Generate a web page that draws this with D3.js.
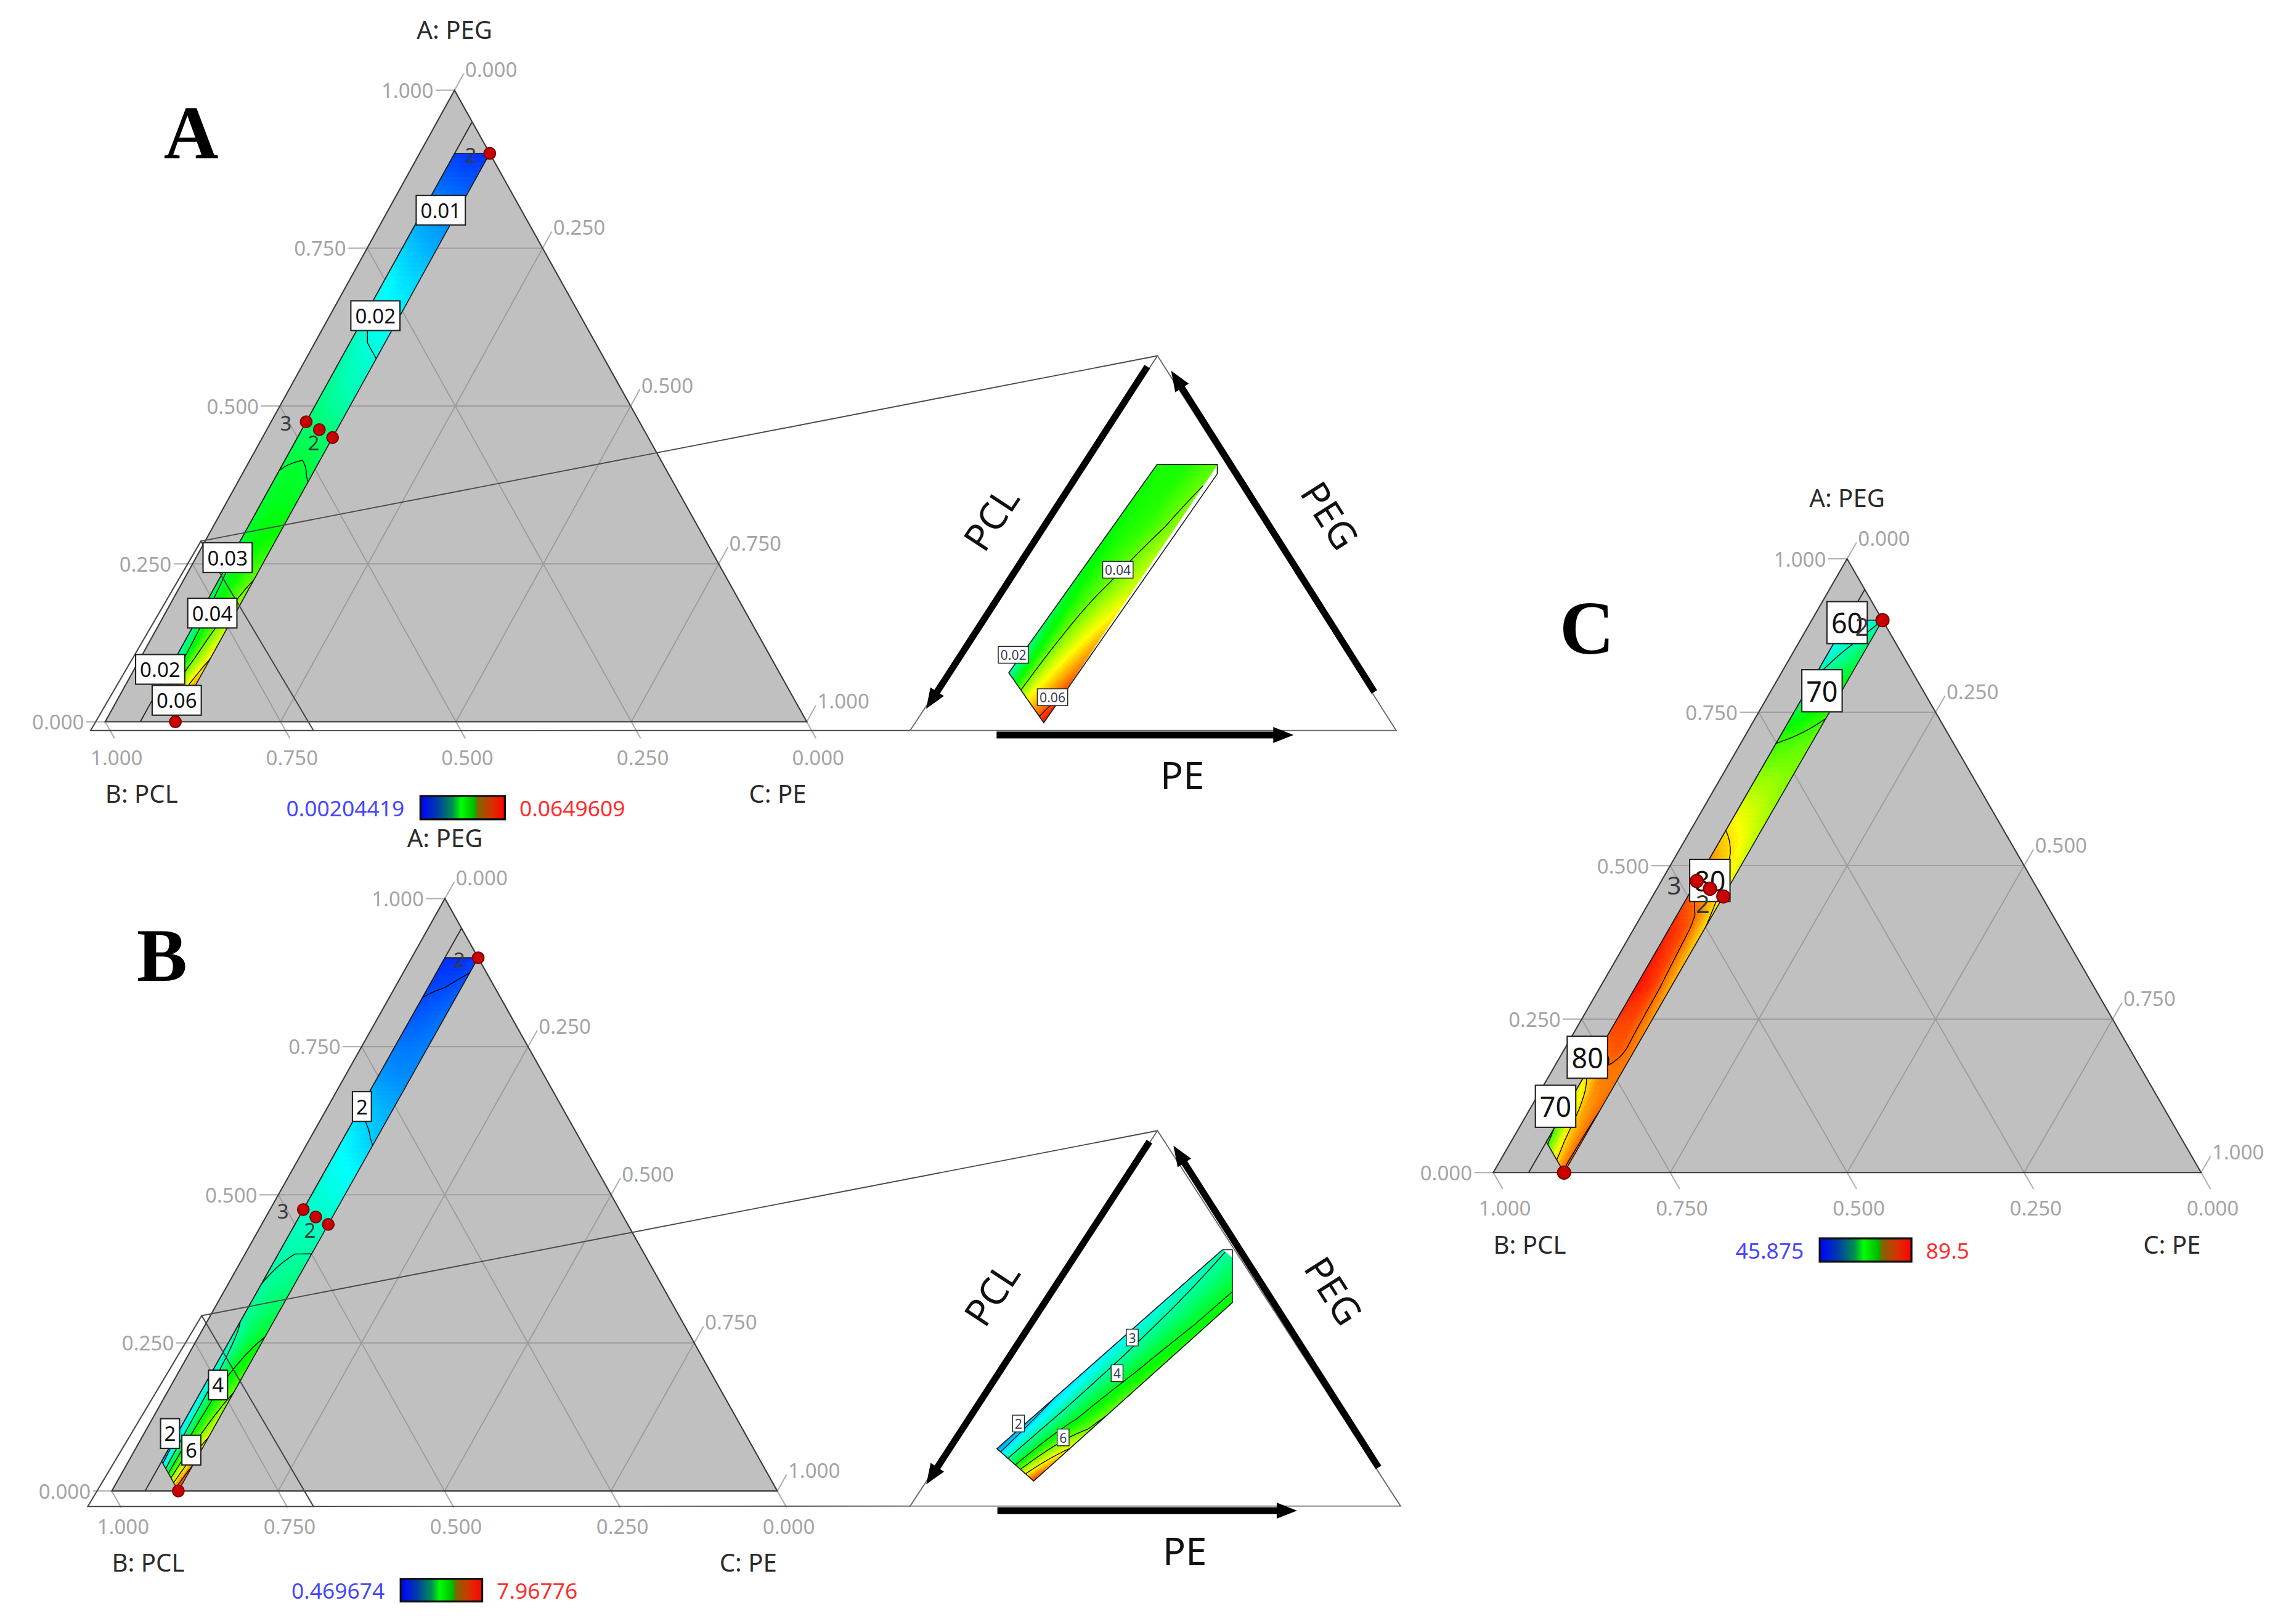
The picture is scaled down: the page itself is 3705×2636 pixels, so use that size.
<!DOCTYPE html>
<html>
<head>
<meta charset="utf-8">
<script src="https://cdn.jsdelivr.net/npm/d3@7"></script>
<style>
  html, body { margin: 0; padding: 0; background: #fff; }
  svg { display: block; font-family: "Noto Sans", "Open Sans", sans-serif; }
</style>
</head>
<body>
<svg id="chart"></svg>
<script>
// ---- data ----
const tickValues = [0, 0.25, 0.5, 0.75, 1];
const gridValues = [0.25, 0.5, 0.75];

// band grid: rows = PEG, columns = PE (PCL = 1 - PEG - PE)
const bandPEG = [0.9, 0.8, 0.7, 0.6, 0.5, 0.4, 0.3, 0.2, 0.1, 0.0];
const bandPE = [0.05, 0.075, 0.1];
const bandOutline = [[0.9, 0.05], [0.9, 0.1], [0, 0.1], [0.05, 0.05]]; // [PEG, PE]
const constraintLine = [[0.95, 0.05], [0, 0.05]];
const designPoints = [[0.9, 0.1], [0.475, 0.05], [0.4625, 0.075], [0.45, 0.1], [0, 0.1]];
const pointLabels = [["2", 0], ["3", 1], ["2", 2]];

const valuesA = [
  [0.006, 0.005, 0.005],
  [0.012, 0.011, 0.010],
  [0.018, 0.016, 0.015],
  [0.022, 0.020, 0.019],
  [0.026, 0.024, 0.023],
  [0.030, 0.031, 0.029],
  [0.031, 0.033, 0.034],
  [0.028, 0.035, 0.042],
  [0.021, 0.039, 0.050],
  [0.016, 0.046, 0.063]
];
const valuesB = [
  [0.8, 0.8, 0.9],
  [1.1, 1.2, 1.3],
  [1.6, 1.5, 1.5],
  [2.3, 2.1, 1.9],
  [2.7, 2.6, 2.5],
  [2.9, 3.0, 3.0],
  [3.1, 3.4, 3.6],
  [2.4, 3.9, 4.6],
  [2.0, 4.3, 5.8],
  [1.2, 4.8, 7.9]
];
const valuesC = [
  [55, 57, 60],
  [60, 64, 67],
  [70, 71, 72],
  [77, 76, 74],
  [84, 81, 77],
  [88, 86, 80],
  [89, 87, 82],
  [85, 86, 84],
  [72, 82, 85],
  [65, 78, 86]
];
const rangeA = [0.00204419, 0.0649609];
const rangeB = [0.469674, 7.96776];
const rangeC = [45.875, 89.5];
const rangeTextA = ["0.00204419", "0.0649609"];
const rangeTextB = ["0.469674", "7.96776"];
const rangeTextC = ["45.875", "89.5"];
const levelsA = [0.01, 0.02, 0.03, 0.04, 0.05, 0.06];
const levelsB = [1, 2, 3, 4, 5, 6, 7];
const levelsC = [60, 70, 80, 85];
// contour labels: [text, PEG, PE]
const labelsA = [["0.01", 0.81, 0.075], ["0.02", 0.643, 0.065], ["0.03", 0.26, 0.045],
                 ["0.04", 0.172, 0.067], ["0.02", 0.083, 0.037], ["0.06", 0.034, 0.085]];
const labelsB = [["2", 0.649, 0.051], ["4", 0.179, 0.07], ["2", 0.097, 0.039], ["6", 0.069, 0.085]];
const labelsC = [["60", 0.896, 0.052], ["70", 0.785, 0.072], ["80", 0.476, 0.068],
                 ["80", 0.188, 0.039], ["70", 0.108, 0.034]];

// zoomed insets: rows = along the band (top to bottom), columns = across it
const insetT = [1, 0.75, 0.5, 0.25, 0];
const insetS = [0, 0.5, 1];
const insetValuesA = [
  [0.035, 0.035, 0.039],
  [0.034, 0.036, 0.042],
  [0.032, 0.039, 0.047],
  [0.028, 0.043, 0.056],
  [0.022, 0.048, 0.064]
];
const insetValuesB = [
  [2.9, 3.6, 4.3],
  [2.6, 3.5, 4.4],
  [2.3, 3.5, 4.7],
  [2.0, 3.6, 5.2],
  [1.5, 4.0, 7.6]
];
const insetLevelsA = [0.02, 0.04, 0.06];
const insetLevelsB = [2, 3, 4, 5, 6];
const insetLabelsA = [["0.04", 0.4275, 0.429], ["0.02", 0.2126, 0.202], ["0.06", 0.293, 0.089]];
const insetLabelsB = [["3", 0.453, 0.449], ["4", 0.422, 0.354], ["2", 0.221, 0.22], ["6", 0.312, 0.183]];
const arrowNames = ["PCL", "PEG", "PE"];

// ---- layout ----
const W = 1568, H = 1116;
const svg = d3.select("#chart")
  .attr("width", 3705).attr("height", 2636)
  .attr("viewBox", `0 0 ${W} ${H}`);
const defs = svg.append("defs");

const fillColour = d3.scaleLinear()
  .domain([0, 0.25, 0.5, 0.75, 1])
  .range(["#0000ff", "#00ffff", "#00ff00", "#ffff00", "#ff0000"])
  .clamp(true);

const legendStops = [[0, "#0000ff"], [0.2, "#003ca8"], [0.38, "#009050"], [0.48, "#00ff00"],
                     [0.65, "#00b400"], [0.67, "#7a6a00"], [0.85, "#d83000"], [1, "#ff0000"]];
const lg = defs.append("linearGradient").attr("id", "legendGrad");
lg.selectAll("stop").data(legendStops).join("stop")
  .attr("offset", d => d[0]).attr("stop-color", d => d[1]);

const panels = [
  {
    key: "A", letter: [131, 109], apex: [312, 62], bl: [72, 496], br: [554, 496],
    values: valuesA, range: rangeA, rangeText: rangeTextA, levels: levelsA, labels: labelsA,
    legend: { x: 288.6, y: 547, w: 58, h: 16 }, boxFont: 14, boxPad: [3, 2.5], ptFont: 14, dotR: 4,
    ptOffsets: [[-13, 1], [-14, 1], [-4, 9]],
    zoom: { apex: [0.286, -0.006], bl: [-0.014, -0.014], br: [-0.014, 0.304] },
    inset: {
      bl: [625, 502], br: [959, 502], apex: [795, 244.5],
      frame: [[0.203, 0.154], [0.275, 0.021], [0.508, 0.71], [0.632, 0.71]],
      clip: [[0.203, 0.154], [0.275, 0.021], [0.632, 0.685], [0.632, 0.71], [0.508, 0.71]],
      values: insetValuesA, levels: insetLevelsA, labels: insetLabelsA
    }
  },
  {
    key: "B", letter: [111, 674], apex: [305.4, 617.5], bl: [76.5, 1024.6], br: [533.8, 1024.6],
    values: valuesB, range: rangeB, rangeText: rangeTextB, levels: levelsB, labels: labelsB,
    legend: { x: 275, y: 1085, w: 56, h: 15.5 }, boxFont: 14, boxPad: [2.5, 2.5], ptFont: 14, dotR: 4,
    ptOffsets: [[-13, 1], [-14, 1], [-4, 9]],
    zoom: { apex: [0.296, -0.013], bl: [-0.026, -0.023], br: [-0.026, 0.316] },
    inset: {
      bl: [625, 1035], br: [962, 1035], apex: [795, 777],
      frame: [[0.177, 0.153], [0.252, 0.067], [0.637, 0.683], [0.712, 0.597]],
      clip: [[0.177, 0.153], [0.252, 0.067], [0.657, 0.542], [0.657, 0.683], [0.637, 0.683]],
      values: insetValuesB, levels: insetLevelsB, labels: insetLabelsB
    }
  },
  {
    key: "C", letter: [1090, 449], apex: [1268.8, 384], bl: [1025.7, 805.8], br: [1512, 805.8],
    values: valuesC, range: rangeC, rangeText: rangeTextC, levels: levelsC, labels: labelsC,
    legend: { x: 1250, y: 851, w: 63, h: 16 }, boxFont: 19, boxPad: [3, 4], ptFont: 17, dotR: 4.5,
    ptOffsets: [[-14, 4], [-15.5, 2.6], [-5, 10]]
  }
];

let clipCount = 0;
const fmt3 = d3.format(".3f");
const unit = (a, b) => { const dx = b[0] - a[0], dy = b[1] - a[1], l = Math.hypot(dx, dy); return [dx / l, dy / l]; };
const ptsAttr = pts => pts.map(p => p.join(",")).join(" ");

function ternary(p) {
  const y = d3.scaleLinear().domain([0, 1]).range([p.bl[1], p.apex[1]]);
  const xb = d3.scaleLinear().domain([0, 1]).range([p.bl[0], p.br[0]]);
  const shear = p.apex[0] - p.bl[0];
  return (a, c) => [xb(c) + a * shear, y(a)];
}

// smooth field + iso lines drawn from a small value grid
function drawField(g, o) {
  const nr = o.rowParams.length, nc = o.colParams.length;
  const ri = d3.scaleLinear().domain([o.rowParams[0], o.rowParams[nr - 1]]).range([0, nr - 1]);
  const ci = d3.scaleLinear().domain([o.colParams[0], o.colParams[nc - 1]]).range([0, nc - 1]);
  const V = o.values;
  const val = (rp, cp) => {
    const r = Math.max(0, Math.min(nr - 1, ri(rp))), c = Math.max(0, Math.min(nc - 1, ci(cp)));
    const r0 = Math.min(nr - 2, Math.floor(r)), c0 = Math.min(nc - 2, Math.floor(c));
    const fr = r - r0, fc = c - c0;
    return (1 - fr) * ((1 - fc) * V[r0][c0] + fc * V[r0][c0 + 1]) +
           fr * ((1 - fc) * V[r0 + 1][c0] + fc * V[r0 + 1][c0 + 1]);
  };
  const R = o.nR, C = o.nC;
  const rs = d3.scaleLinear().domain([0, R]).range([o.rowParams[0], o.rowParams[nr - 1]]);
  const cs = d3.scaleLinear().domain([0, C]).range([o.colParams[0], o.colParams[nc - 1]]);
  const id = "clip" + (clipCount++);
  defs.append("clipPath").attr("id", id).append("polygon").attr("points", ptsAttr(o.clip));
  const gf = g.append("g").attr("clip-path", `url(#${id})`);

  const cells = [];
  for (let i = 0; i < R; i++) for (let j = 0; j < C; j++) cells.push({ i, j, v: val(rs(i + 0.5), cs(j + 0.5)) });
  gf.selectAll("path.cell").data(cells).join("path")
    .attr("class", "cell")
    .attr("d", d => "M" + [[d.i, d.j], [d.i, d.j + 1], [d.i + 1, d.j + 1], [d.i + 1, d.j]]
      .map(([a, b]) => o.map(rs(a), cs(b))).join("L") + "Z")
    .attr("fill", d => o.colour(d.v))
    .attr("stroke", d => o.colour(d.v))
    .attr("stroke-width", 0.5);

  // marching squares on the sampled grid
  const grid = d3.range(R + 1).map(i => d3.range(C + 1).map(j => val(rs(i), cs(j))));
  const segs = [];
  o.levels.forEach(L => {
    for (let i = 0; i < R; i++) for (let j = 0; j < C; j++) {
      const cr = [[i, j, grid[i][j]], [i, j + 1, grid[i][j + 1]], [i + 1, j + 1, grid[i + 1][j + 1]], [i + 1, j, grid[i + 1][j]]];
      const pts = [];
      for (let k = 0; k < 4; k++) {
        const a = cr[k], b = cr[(k + 1) % 4];
        if ((a[2] < L) !== (b[2] < L)) {
          const t = (L - a[2]) / (b[2] - a[2]);
          pts.push([a[0] + t * (b[0] - a[0]), a[1] + t * (b[1] - a[1])]);
        }
      }
      if (pts.length === 2) segs.push(pts);
      else if (pts.length === 4) { segs.push([pts[0], pts[1]]); segs.push([pts[2], pts[3]]); }
    }
  });
  gf.append("path")
    .attr("d", segs.map(s => "M" + s.map(q => o.map(rs(q[0]), cs(q[1]))).join("L")).join(""))
    .attr("fill", "none").attr("stroke", "#000").attr("stroke-width", o.lineW || 0.6);

  g.append("polygon").attr("points", ptsAttr(o.clip))
    .attr("fill", "none").attr("stroke", "#1a1a1a").attr("stroke-width", 0.7);
}

function labelBox(g, text, x, y, fs, pad, colour, strokeW) {
  const lg = g.append("g");
  const rect = lg.append("rect");
  const t = lg.append("text").attr("x", x).attr("y", y)
    .attr("text-anchor", "middle").attr("dominant-baseline", "central")
    .attr("font-size", fs).attr("fill", colour).text(text);
  const bb = t.node().getBBox();
  rect.attr("x", bb.x - pad[0]).attr("y", y - fs * 0.55 - pad[1])
    .attr("width", bb.width + 2 * pad[0]).attr("height", fs * 1.1 + 2 * pad[1])
    .attr("fill", "#fff").attr("stroke", "#222").attr("stroke-width", strokeW);
}

function drawArrow(g, tail, tip, w, headL, headW) {
  const d = unit(tail, tip), n = [-d[1], d[0]];
  const base = [tip[0] - d[0] * headL, tip[1] - d[1] * headL];
  g.append("line").attr("x1", tail[0]).attr("y1", tail[1]).attr("x2", base[0] + d[0] * 1).attr("y2", base[1] + d[1] * 1)
    .attr("stroke", "#000").attr("stroke-width", w);
  g.append("polygon").attr("points", ptsAttr([tip,
    [base[0] + n[0] * headW / 2, base[1] + n[1] * headW / 2],
    [base[0] - n[0] * headW / 2, base[1] - n[1] * headW / 2]])).attr("fill", "#000");
}

function drawInset(g, p, tern) {
  const ins = p.inset;
  const u = d3.scaleLinear().domain([0, 1]).range([ins.bl[0], ins.br[0]]);
  const v = d3.scaleLinear().domain([0, 1]).range([ins.bl[1], ins.apex[1]]);
  const P = q => [u(q[0]), v(q[1])];

  // zoom window inside the main triangle and its connecting lines
  const z = p.zoom;
  const zA = tern(z.apex[0], z.apex[1]), zB = tern(z.bl[0], z.bl[1]), zC = tern(z.br[0], z.br[1]);
  g.append("polygon").attr("points", ptsAttr([zA, zB, zC]))
    .attr("fill", "none").attr("stroke", "#4a4a4a").attr("stroke-width", 0.9);
  g.append("line").attr("x1", zA[0]).attr("y1", zA[1]).attr("x2", ins.apex[0]).attr("y2", ins.apex[1])
    .attr("stroke", "#4a4a4a").attr("stroke-width", 0.8);
  g.append("line").attr("x1", zB[0]).attr("y1", zB[1]).attr("x2", ins.bl[0]).attr("y2", ins.bl[1])
    .attr("stroke", "#4a4a4a").attr("stroke-width", 0.8);
  g.append("polygon").attr("points", ptsAttr([ins.bl, ins.br, ins.apex]))
    .attr("fill", "none").attr("stroke", "#6a6a6a").attr("stroke-width", 0.8);

  const [p00, p10, p01, p11] = ins.frame.map(P);
  const frameAt = (t, s) => [
    (1 - s) * (1 - t) * p00[0] + s * (1 - t) * p10[0] + (1 - s) * t * p01[0] + s * t * p11[0],
    (1 - s) * (1 - t) * p00[1] + s * (1 - t) * p10[1] + (1 - s) * t * p01[1] + s * t * p11[1]
  ];
  drawField(g, {
    rowParams: insetT, colParams: insetS, values: ins.values, map: frameAt,
    clip: ins.clip.map(P), levels: ins.levels, nR: 60, nC: 24, lineW: 0.55,
    colour: vv => fillColour((vv - p.range[0]) / (p.range[1] - p.range[0]))
  });
  ins.labels.forEach(([txt, a, b]) => {
    const q = P([a, b]);
    labelBox(g, txt, q[0], q[1], 9, [1.5, 0.8], "#3b3f55", 0.6);
  });

  // arrows along the sides
  drawArrow(g, P([0.488, 0.971]), P([0.033, 0.058]), 4.6, 14, 11);
  drawArrow(g, P([0.955, 0.103]), P([0.537, 0.96]), 4.6, 14, 11);
  drawArrow(g, P([0.178, -0.012]), P([0.789, -0.012]), 4.6, 14, 11);
  const lab = [[0.165, 0.567, -56.6], [0.865, 0.575, 57.5], [0.56, -0.117, 0]];
  lab.forEach(([a, b, rot], i) => {
    const q = P([a, b]);
    g.append("text").attr("transform", `translate(${q[0]},${q[1]}) rotate(${rot})`)
      .attr("text-anchor", "middle").attr("dominant-baseline", "central")
      .attr("font-size", 26).attr("fill", "#111").text(arrowNames[i]);
  });
}

function drawPanel(p) {
  const g = svg.append("g").attr("class", "panel-" + p.key);
  const tern = ternary(p);
  const A = p.apex, BL = p.bl, BR = p.br;
  const L = 13;

  // triangle
  g.append("polygon").attr("points", ptsAttr([A, BL, BR]))
    .attr("fill", "#c0c0c0").attr("stroke", "none");

  // grid lines
  const gl = g.append("g").attr("stroke", "#9c9c9c").attr("stroke-width", 0.8);
  gridValues.forEach(val => {
    [[tern(val, 0), tern(val, 1 - val)], [tern(0, val), tern(1 - val, val)], [tern(1 - val, 0), tern(0, 1 - val)]]
      .forEach(([s, e]) => gl.append("line").attr("x1", s[0]).attr("y1", s[1]).attr("x2", e[0]).attr("y2", e[1]));
  });

  // ticks and tick labels
  const tk = g.append("g").attr("stroke", "#b0b0b0").attr("stroke-width", 0.9);
  const tl = g.append("g").attr("font-size", 14).attr("fill", "#a4a4a4").attr("dominant-baseline", "central");
  const dR = unit(BL, A), dB = unit(A, BR);
  tickValues.forEach(val => {
    const s1 = tern(val, 0);
    tk.append("line").attr("x1", s1[0]).attr("y1", s1[1]).attr("x2", s1[0] - L).attr("y2", s1[1]);
    tl.append("text").attr("x", s1[0] - L - 1.5).attr("y", s1[1]).attr("text-anchor", "end").text(fmt3(val));

    const s2 = tern(1 - val, val), e2 = [s2[0] + dR[0] * L, s2[1] + dR[1] * L];
    tk.append("line").attr("x1", s2[0]).attr("y1", s2[1]).attr("x2", e2[0]).attr("y2", e2[1]);
    tl.append("text").attr("x", e2[0] + 1).attr("y", e2[1] - 3).attr("text-anchor", "start").text(fmt3(val));

    const s3 = tern(0, 1 - val), e3 = [s3[0] + dB[0] * L, s3[1] + dB[1] * L];
    tk.append("line").attr("x1", s3[0]).attr("y1", s3[1]).attr("x2", e3[0]).attr("y2", e3[1]);
    tl.append("text").attr("x", e3[0] + 1.5).attr("y", e3[1] + 13).attr("text-anchor", "middle").text(fmt3(val));
  });

  // triangle edge
  g.append("polygon").attr("points", ptsAttr([A, BL, BR]))
    .attr("fill", "none").attr("stroke", "#3c3c3c").attr("stroke-width", 0.9);

  // constraint line
  const c0 = tern(...constraintLine[0]), c1 = tern(...constraintLine[1]);
  g.append("line").attr("x1", c0[0]).attr("y1", c0[1]).attr("x2", c1[0]).attr("y2", c1[1])
    .attr("stroke", "#2e2e2e").attr("stroke-width", 0.8);

  // response surface in the feasible band
  drawField(g, {
    rowParams: bandPEG, colParams: bandPE, values: p.values, map: tern,
    clip: bandOutline.map(d => tern(d[0], d[1])), levels: p.levels, nR: 120, nC: 10,
    colour: vv => fillColour((vv - p.range[0]) / (p.range[1] - p.range[0]))
  });

  if (p.inset) drawInset(g, p, tern);

  // contour labels
  p.labels.forEach(([txt, a, c]) => {
    const q = tern(a, c);
    labelBox(g, txt, q[0], q[1], p.boxFont, p.boxPad, "#111", 0.9);
  });

  // design points
  g.selectAll("circle.dp").data(designPoints).join("circle")
    .attr("class", "dp")
    .attr("cx", d => tern(d[0], d[1])[0]).attr("cy", d => tern(d[0], d[1])[1])
    .attr("r", p.dotR).attr("fill", "#c80000").attr("stroke", "#7a0000").attr("stroke-width", 0.8);
  pointLabels.forEach(([txt, idx], k) => {
    const q = tern(designPoints[idx][0], designPoints[idx][1]);
    g.append("text").attr("x", q[0] + p.ptOffsets[k][0]).attr("y", q[1] + p.ptOffsets[k][1])
      .attr("text-anchor", "middle").attr("dominant-baseline", "central")
      .attr("font-size", p.ptFont).attr("fill", "#3a3a3a").text(txt);
  });

  // axis titles
  const at = g.append("g").attr("font-size", 17).attr("fill", "#2b2b2b").attr("dominant-baseline", "central");
  at.append("text").attr("x", A[0]).attr("y", A[1] - 42).attr("text-anchor", "middle").text("A: PEG");
  at.append("text").attr("x", BL[0] + 25).attr("y", BL[1] + 49).attr("text-anchor", "middle").text("B: PCL");
  at.append("text").attr("x", BR[0] - 20).attr("y", BR[1] + 49).attr("text-anchor", "middle").text("C: PE");

  // legend
  const lgd = p.legend;
  g.append("rect").attr("x", lgd.x).attr("y", lgd.y).attr("width", lgd.w).attr("height", lgd.h)
    .attr("fill", "url(#legendGrad)").attr("stroke", "#111").attr("stroke-width", 1.4);
  g.append("text").attr("x", lgd.x - 11).attr("y", lgd.y + lgd.h / 2).attr("text-anchor", "end")
    .attr("dominant-baseline", "central").attr("font-size", 15).attr("fill", "#4646ff").text(p.rangeText[0]);
  g.append("text").attr("x", lgd.x + lgd.w + 10).attr("y", lgd.y + lgd.h / 2).attr("text-anchor", "start")
    .attr("dominant-baseline", "central").attr("font-size", 15).attr("fill", "#ff2c2c").text(p.rangeText[1]);

  // panel letter
  g.append("text").attr("x", p.letter[0]).attr("y", p.letter[1]).attr("text-anchor", "middle")
    .attr("font-family", "'Liberation Serif', 'DejaVu Serif', serif").attr("font-weight", "bold")
    .attr("font-size", 52).attr("fill", "#000").text(p.key);
}

panels.forEach(drawPanel);
</script>
</body>
</html>
